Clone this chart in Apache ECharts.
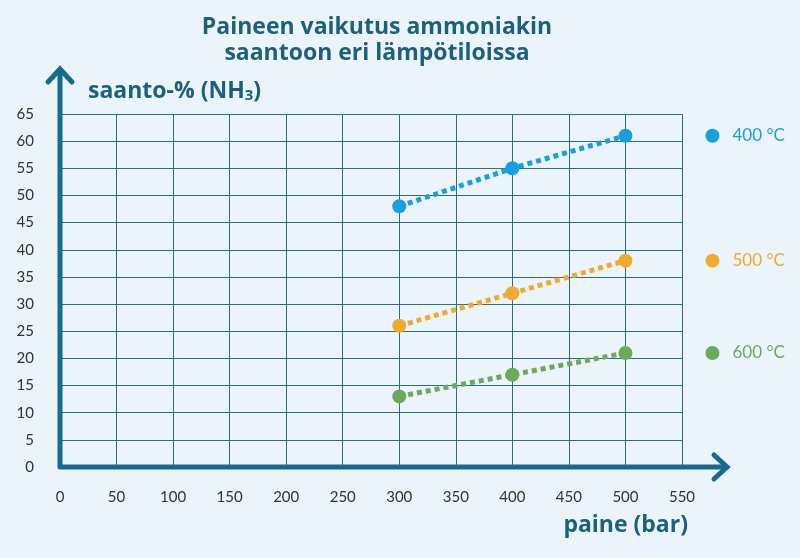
<!DOCTYPE html>
<html><head><meta charset="utf-8">
<script src="https://cdn.jsdelivr.net/npm/echarts@6/dist/echarts.min.js"></script>
<style>html,body{margin:0;padding:0;background:#ebf3fb}#c{width:800px;height:558px}</style>
</head><body><div id="c"></div>
<script>
const pressures = [300, 400, 500];
const yield400 = [48, 55, 61];
const yield500 = [26, 32, 38];
const yield600 = [13, 17, 21];
const seriesNames = ['400 °C', '500 °C', '600 °C'];
const seriesColors = ['#17a0dd', '#f0aa2c', '#6aaa5a'];
const xTicks = [0,50,100,150,200,250,300,350,400,450,500,550];
const yTicks = [0,5,10,15,20,25,30,35,40,45,50,55,60,65];

const axisColor = '#176a8a';
const titleColor = '#1c607c';
const chart = echarts.init(document.getElementById('c'));
const values = [yield400, yield500, yield600];

const series = values.map((v, i) => ({
  name: seriesNames[i],
  type: 'line',
  data: pressures.map((p, k) => [p, v[k]]),
  symbol: 'circle',
  symbolSize: 14,
  itemStyle: {color: seriesColors[i]},
  lineStyle: {color: seriesColors[i], width: 5, type: [5, 4]},
  label: {
    show: true,
    position: 'right',
    distance: 73,
    formatter: (p) => p.dataIndex === pressures.length - 1 ? '{d|}{t|' + seriesNames[i] + '}' : '',
    rich: {
      d: {width: 14, height: 14, borderRadius: 7, backgroundColor: seriesColors[i]},
      t: {color: seriesColors[i], fontSize: 17, fontFamily: 'Lato', padding: [0, 0, 0, 13]}
    }
  },
  z: 3
}));

chart.setOption({
  backgroundColor: '#ebf3fb',
  animation: false,
  title: {
    text: 'Paineen vaikutus ammoniakin\nsaantoon eri lämpötiloissa',
    left: 372, top: 9, textAlign: 'center',
    textStyle: {color: titleColor, fontFamily: 'Open Sans', fontWeight: 'bold', fontSize: 23, lineHeight: 26}
  },
  grid: {left: 60, top: 114, width: 622, height: 353, containLabel: false},
  xAxis: {
    type: 'value', min: 0, max: 550, interval: 50,
    axisLine: {show: false}, axisTick: {show: false},
    axisLabel: {color: '#333', fontFamily: 'Lato', fontSize: 15, margin: 23,
      formatter: (v) => xTicks.includes(v) ? String(v) : ''},
    splitLine: {show: true, lineStyle: {color: '#2c6f82', width: 1}},
    name: 'paine (bar)', nameLocation: 'end', nameGap: 6,
    nameTextStyle: {color: titleColor, fontFamily: 'Open Sans', fontWeight: 'bold', fontSize: 23,
      align: 'right', verticalAlign: 'top', padding: [47, 0, 0, 0]}
  },
  yAxis: {
    type: 'value', min: 0, max: 65, interval: 5,
    axisLine: {show: false}, axisTick: {show: false},
    axisLabel: {color: '#333', fontFamily: 'Lato', fontSize: 15, margin: 26,
      formatter: (v) => yTicks.includes(v) ? String(v) : ''},
    splitLine: {show: true, lineStyle: {color: '#2c6f82', width: 1}},
    name: '{b|saanto-% (NH}{s|3}{b|)}', nameLocation: 'end', nameGap: 23,
    nameTextStyle: {align: 'left', verticalAlign: 'middle', padding: [0, 0, 0, 28],
      rich: {
        b: {color: titleColor, fontFamily: 'Open Sans', fontWeight: 'bold', fontSize: 23, lineHeight: 28},
        s: {color: titleColor, fontFamily: 'Open Sans', fontWeight: 'bold', fontSize: 15, lineHeight: 28, padding: [10, 0, 0, 0]}
      }}
  },
  graphic: [
    {type: 'polyline', shape: {points: [[60, 72], [60, 467], [726, 467]]},
     style: {stroke: axisColor, lineWidth: 5, fill: null, lineJoin: 'round', lineCap: 'round'}, z: 10},
    {type: 'polyline', shape: {points: [[48, 82], [60, 69], [72, 82]]},
     style: {stroke: axisColor, lineWidth: 5, fill: null, lineJoin: 'miter', lineCap: 'round'}, z: 10},
    {type: 'polyline', shape: {points: [[714, 455], [727, 467], [714, 479]]},
     style: {stroke: axisColor, lineWidth: 5, fill: null, lineJoin: 'miter', lineCap: 'round'}, z: 10}
  ],
  series: series
});
</script></body></html>
